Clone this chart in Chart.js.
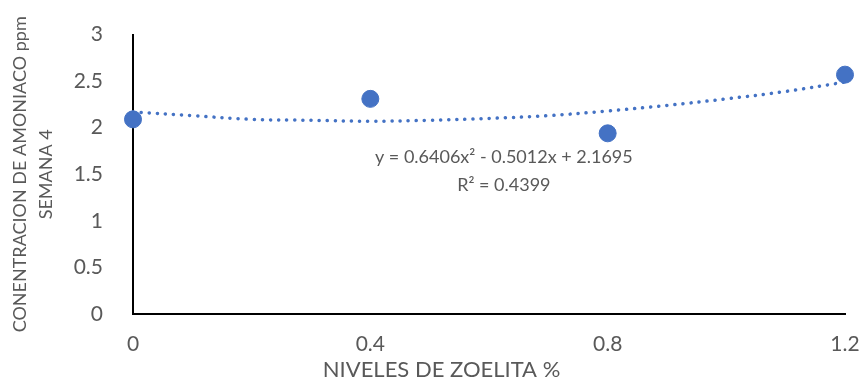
<!DOCTYPE html>
<html lang="es">
<head>
  <meta charset="UTF-8">
  <title>Amoniaco vs zeolita</title>
  <script src="https://cdn.jsdelivr.net/npm/chart.js"></script>
  <style>
    html, body { margin: 0; padding: 0; background: #fff; }
    #wrap { width: 861px; height: 381px; }
  </style>
</head>
<body>
  <div id="wrap"><canvas id="chart" width="861" height="381"></canvas></div>

  <script>
    // datos
    const niveles = [0, 0.4, 0.8, 1.2];
    const amoniaco = [2.09, 2.31, 1.94, 2.57];

    const tendX = [0, 0.1, 0.2, 0.3, 0.4, 0.5, 0.6, 0.7, 0.8, 0.9, 1.0, 1.1, 1.2];
    const tendY = [2.17, 2.13, 2.09, 2.08, 2.07, 2.08, 2.10, 2.13, 2.18, 2.24, 2.31, 2.39, 2.49];

    const xTicks = [0, 0.4, 0.8, 1.2];
    const yTicks = [0, 0.5, 1, 1.5, 2, 2.5, 3];
    const ecuacion = ['y = 0.6406x\u00B2 - 0.5012x + 2.1695', 'R\u00B2 = 0.4399'];
    const tituloX = 'NIVELES DE ZOELITA %';

    const azul = '#4472C4';
    const gris = '#595959';
    const fuente = 'Lato';

    // ecuacion de la tendencia y titulo del eje x (corrido a la izquierda como en el original)
    const textos = {
      id: 'textos',
      afterDraw(chart) {
        const ctx = chart.ctx;
        const x = chart.scales.x.getPixelForValue(0.625);
        const y = chart.scales.y.getPixelForValue(1.68);
        ctx.save();
        ctx.fillStyle = gris;
        ctx.textAlign = 'center';
        ctx.textBaseline = 'middle';
        ctx.font = '18px "' + fuente + '"';
        ctx.fillText(ecuacion[0], x, y);
        ctx.fillText(ecuacion[1], x, y + 28);
        ctx.font = '22px "' + fuente + '"';
        ctx.fillText(tituloX, chart.scales.x.getPixelForValue(0.52), chart.height - 11);
        ctx.restore();
      }
    };

    new Chart(document.getElementById('chart'), {
      type: 'scatter',
      data: {
        datasets: [
          {
            label: 'Amoniaco',
            data: niveles.map((v, i) => ({ x: v, y: amoniaco[i] })),
            backgroundColor: azul,
            borderColor: azul,
            pointRadius: 8.5,
            pointHoverRadius: 8.5,
            clip: false
          },
          {
            type: 'line',
            label: 'Tendencia',
            data: tendX.map((v, i) => ({ x: v, y: tendY[i] })),
            borderColor: azul,
            borderWidth: 3.5,
            borderDash: [0.1, 8],
            borderCapStyle: 'round',
            pointRadius: 0,
            tension: 0.4,
            fill: false,
            clip: false
          }
        ]
      },
      options: {
        responsive: false,
        animation: false,
        layout: { padding: { top: 31, right: 16, bottom: 0, left: 0 } },
        plugins: {
          legend: { display: false },
          tooltip: { enabled: false }
        },
        scales: {
          x: {
            type: 'linear',
            min: 0,
            max: 1.2,
            afterBuildTicks: s => { s.ticks = xTicks.map(v => ({ value: v })); },
            afterFit: s => { s.height = 67; s.paddingRight = 0; s.paddingLeft = 0; },
            grid: { display: false },
            border: { display: true, color: '#000', width: 2 },
            ticks: {
              color: gris,
              padding: 10,
              font: { family: fuente, size: 21 },
              maxRotation: 0,
              callback: v => String(v)
            },
            title: { display: false }
          },
          y: {
            min: 0,
            max: 3,
            afterBuildTicks: s => { s.ticks = yTicks.map(v => ({ value: v })); },
            afterFit: s => { s.width = 133; },
            grid: { display: false },
            border: { display: true, color: '#000', width: 2 },
            ticks: {
              color: gris,
              padding: 22,
              font: { family: fuente, size: 21 },
              callback: v => String(v)
            },
            title: {
              display: true,
              text: ['CONENTRACION DE AMONIACO ppm', 'SEMANA 4'],
              color: gris,
              font: { family: fuente, size: 18, lineHeight: 1.4 },
              padding: { top: 8, bottom: 0 }
            }
          }
        }
      },
      plugins: [textos]
    });
  </script>
</body>
</html>
